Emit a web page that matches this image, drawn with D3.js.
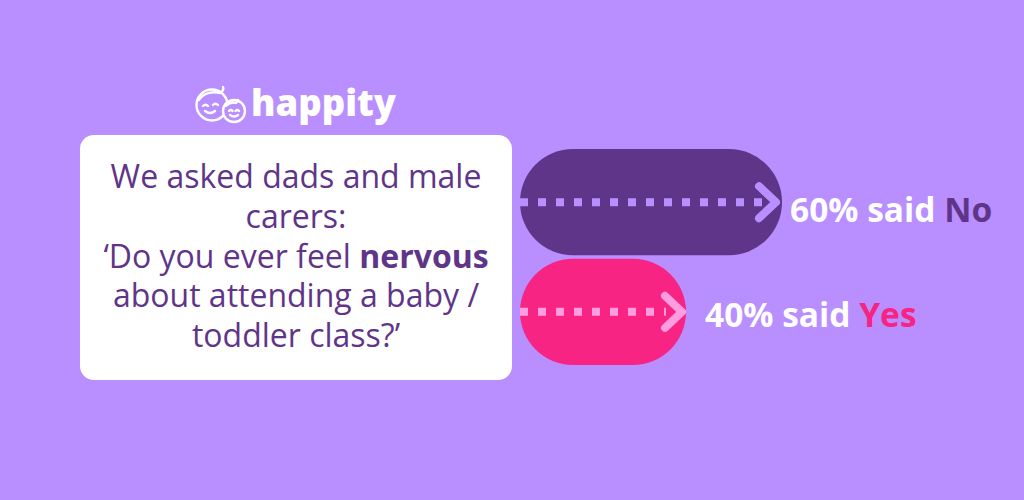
<!DOCTYPE html>
<html>
<head>
<meta charset="utf-8">
<script src="https://cdn.jsdelivr.net/npm/d3@7"></script>
<style>
  html, body { margin: 0; padding: 0; background: #b98eff; }
  svg { display: block; }
</style>
</head>
<body>
<div id="chart"></div>
<script>
// Size of the figure
var outerWidth = 1024;
var outerHeight = 500;

// Data
var answers = ["No", "Yes"];
var shares = [60, 40];
var barColours = ["#5f3589", "#f72483"];
var dotColours = ["#b98eff", "#ff9de0"];
var wordColours = ["#5f3589", "#f72483"];

// Question text, one entry per line; bold words marked separately
var questionLines = [
  [["We asked dads and male", false]],
  [["carers:", false]],
  [["\u2018Do you ever feel ", false], ["nervous", true]],
  [["about attending a baby /", false]],
  [["toddler class?\u2019", false]]
];

var bg = "#b98eff";
var textPurple = "#5f3589";
var fontFamily = "'Open Sans', 'Noto Sans', sans-serif";

var vis = d3.select("#chart").append("svg")
  .attr("width", outerWidth)
  .attr("height", outerHeight);

vis.append("rect")
  .attr("width", outerWidth)
  .attr("height", outerHeight)
  .attr("fill", bg);

// Scales - bars start at a fixed left edge, length follows the share
var barLeft = 520;
var xScale = d3.scaleLinear()
  .domain([0, 100])
  .range([494, 974]);
var yScale = d3.scaleBand()
  .domain(answers)
  .range([149, 365])
  .paddingInner(0.03);

var bh = yScale.bandwidth();

// Bars
var gBars = vis.append("g");
gBars.selectAll("rect").data(answers).enter().append("rect")
  .attr("x", barLeft)
  .attr("y", function(d) { return yScale(d); })
  .attr("width", function(d, i) { return xScale(shares[i]) - barLeft; })
  .attr("height", bh)
  .attr("rx", bh / 2)
  .attr("fill", function(d, i) { return barColours[i]; });

// Dotted arrows
gBars.selectAll("line.dots").data(answers).enter().append("line")
  .attr("class", "dots")
  .attr("x1", barLeft)
  .attr("x2", function(d, i) { return xScale(shares[i]) - 20; })
  .attr("y1", function(d) { return yScale(d) + bh / 2; })
  .attr("y2", function(d) { return yScale(d) + bh / 2; })
  .attr("stroke", function(d, i) { return dotColours[i]; })
  .attr("stroke-width", 8)
  .attr("stroke-dasharray", "8 10");

gBars.selectAll("path.chev").data(answers).enter().append("path")
  .attr("class", "chev")
  .attr("d", function(d, i) {
    var tx = xScale(shares[i]) - (i === 0 ? 6 : 4), ty = yScale(d) + bh / 2;
    return "M" + (tx - 17) + "," + (ty - 16) + "L" + tx + "," + ty + "L" + (tx - 17) + "," + (ty + 16);
  })
  .attr("fill", "none")
  .attr("stroke", function(d, i) { return dotColours[i]; })
  .attr("stroke-width", 8)
  .attr("stroke-linecap", "round")
  .attr("stroke-linejoin", "round");

// Labels
var labels = gBars.selectAll("text.lab").data(answers).enter().append("text")
  .attr("class", "lab")
  .attr("x", function(d, i) { return xScale(shares[i]) + (i === 0 ? 8 : 19); })
  .attr("y", function(d, i) { return yScale(d) + bh / 2 + (i === 0 ? 20 : 15); })
  .attr("font-family", fontFamily)
  .attr("font-weight", 700)
  .attr("font-size", 33.5)
  .attr("fill", "#ffffff");
labels.append("tspan").text(function(d, i) { return shares[i] + "% said "; });
labels.append("tspan")
  .attr("fill", function(d, i) { return wordColours[i]; })
  .text(function(d) { return d; });

// Question box
var gBox = vis.append("g");
gBox.append("rect")
  .attr("x", 80).attr("y", 135)
  .attr("width", 432).attr("height", 245)
  .attr("rx", 14)
  .attr("fill", "#ffffff");

var q = gBox.append("text")
  .attr("x", 296)
  .attr("text-anchor", "middle")
  .attr("font-family", fontFamily)
  .attr("font-size", 32)
  .attr("fill", textPurple);

questionLines.forEach(function(line, i) {
  line.forEach(function(part, j) {
    var t = q.append("tspan")
      .attr("font-weight", part[1] ? 700 : 400)
      .text(part[0]);
    if (j === 0) t.attr("x", 296).attr("y", 188 + i * 39.8);
  });
});

// Logo
var gLogo = vis.append("g")
  .attr("fill", "none")
  .attr("stroke", "#ffffff")
  .attr("stroke-width", 2.4)
  .attr("stroke-linecap", "round");
// big face
gLogo.append("circle")
  .attr("cx", 212).attr("cy", 105).attr("r", 15.5);
gLogo.append("path")
  .attr("d", "M199,100 C203,93 213,91 220,93 C223,91 224,89 223,87");
gLogo.append("path").attr("d", "M203,106 q2.5,-2.5 5,0");
gLogo.append("path").attr("d", "M213,105 q2.5,-2.5 5,0");
gLogo.append("path").attr("d", "M205,111 q5,4 10,0");
// small face
gLogo.append("circle")
  .attr("cx", 234).attr("cy", 111).attr("r", 11)
  .attr("fill", bg);
gLogo.append("path").attr("d", "M226,106 q5,-5 10,-3 q2,-1 2,-3");
gLogo.append("path").attr("d", "M229,111 q1.8,-1.8 3.6,0");
gLogo.append("path").attr("d", "M235.5,111 q1.8,-1.8 3.6,0");
gLogo.append("path").attr("d", "M230,115 q4,3 8,0");

vis.append("text")
  .attr("x", 251)
  .attr("y", 116)
  .attr("font-family", fontFamily)
  .attr("font-weight", 800)
  .attr("font-size", 36.5)
  .attr("fill", "#ffffff")
  .text("happity");
</script>
</body>
</html>
